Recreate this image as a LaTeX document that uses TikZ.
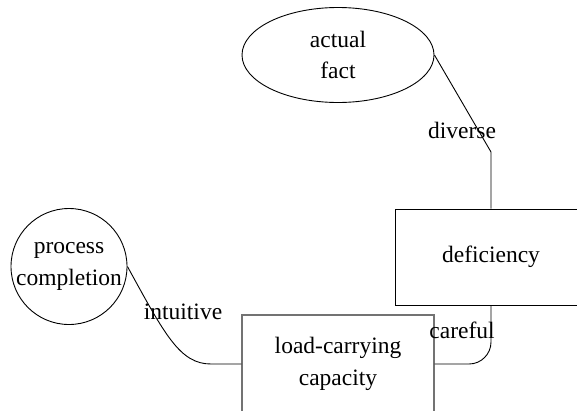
\documentclass[tikz,border=0pt]{standalone}
\usepackage{fontspec}
\setmainfont{Liberation Serif}
\usetikzlibrary{shapes.geometric}
\begin{document}
\begin{tikzpicture}[x=1pt,y=-1pt,
  every node/.style={font=\fontsize{23.5}{31.5}\selectfont},
  conn/.style={draw=black,line width=0.9pt},
  lbl/.style={inner sep=0pt},
  ellnode/.style={ellipse,draw=black,line width=0.9pt,minimum width=192pt,minimum height=95pt,inner sep=0pt,align=center},
  circnode/.style={circle,draw=black,line width=0.9pt,minimum size=116pt,inner sep=0pt,align=center},
  boxnode/.style={rectangle,draw=black,line width=0.9pt,minimum width=192pt,minimum height=96pt,inner sep=0pt,align=center},
  greybox/.style={boxnode,draw=black!55,line width=1.1pt,minimum height=98pt}]
\useasboundingbox (0,0) rectangle (577,410);
\begin{scope}
\clip (0,0) rectangle (577,410);
\node[ellnode] (fact) at (338,55) {actual\\fact};
\node[circnode] (proc) at (69,266.5) {process\\completion};
\node[boxnode] (def) at (491,257) {deficiency};
\node[greybox] (load) at (338,364) {load-carrying\\capacity};
\coordinate (k1) at (491,152);
\coordinate (k2) at (211,364);
\draw[conn] (fact.east) -- (k1) -- (def.north);
\draw[conn,rounded corners=22pt] (def.south) |- (load.east);
\draw[conn] (proc.east) .. controls (165,335) and (180,364) .. (k2) -- (load.west);
\node[lbl] (ldiv) at (462,130) {diverse};
\node[lbl] (lcar) at (462,330.5) {careful};
\node[lbl] (lint) at (183,312) {intuitive};
\end{scope}
\end{tikzpicture}
\end{document}
